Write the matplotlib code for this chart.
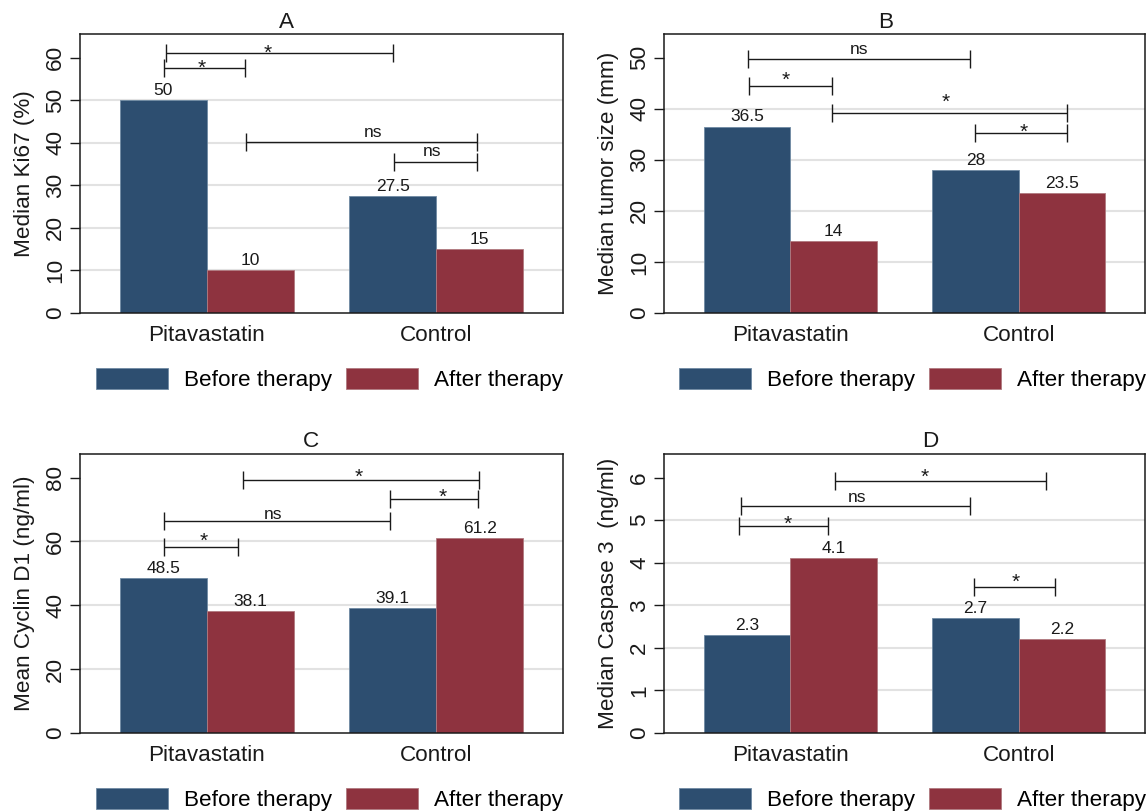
import matplotlib
matplotlib.use("Agg")
import matplotlib.pyplot as plt
from matplotlib.patches import Patch

plt.rcParams['font.family'] = ['Liberation Sans', 'DejaVu Sans']

W, H = 1148, 811

categories = ["Pitavastatin", "Control"]
series_names = ["Before therapy", "After therapy"]
colors = ["#2D4E70", "#8E333F"]
edge_colors = ["#6F8AA3", "#B07A80"]

titles = ["A", "B", "C", "D"]
ylabels = ["Median Ki67 (%)", "Median tumor size (mm)",
           "Mean Cyclin D1 (ng/ml)", "Median Caspase 3  (ng/ml)"]

before_A = [50, 27.5]
after_A = [10, 15]
before_B = [36.5, 28]
after_B = [14, 23.5]
before_C = [48.5, 39.1]
after_C = [38.1, 61.2]
before_D = [2.3, 2.7]
after_D = [4.1, 2.2]

ticks_A = [0, 10, 20, 30, 40, 50, 60]
ticks_B = [0, 10, 20, 30, 40, 50]
ticks_C = [0, 20, 40, 60, 80]
ticks_D = [0, 1, 2, 3, 4, 5, 6]

# brackets: (x_start, x_end, y_line, label, label_x, label_baseline_y)
brackets_A = [(-0.18, 0.81, 61.0, "*", 0.266, 59.7),
              (-0.187, 0.168, 57.5, "*", -0.024, 56.2),
              (0.17, 1.176, 40.2, "ns", 0.726, 41.3),
              (0.818, 1.176, 35.4, "ns", 0.98, 36.8)]
brackets_B = [(-0.186, 0.788, 49.7, "ns", 0.303, 50.7),
              (-0.18, 0.182, 44.4, "*", -0.02, 44.4),
              (0.182, 1.21, 39.1, "*", 0.679, 40.1),
              (0.81, 1.21, 35.2, "*", 1.02, 34.3)]
brackets_C = [(0.156, 1.187, 79.2, "*", 0.662, 78.5),
              (0.80, 1.184, 73.4, "*", 1.027, 72.0),
              (-0.186, 0.80, 66.4, "ns", 0.288, 67.0),
              (-0.186, 0.135, 58.2, "*", -0.014, 58.2)]
brackets_D = [(0.194, 1.118, 5.91, "*", 0.587, 5.87),
              (-0.214, 0.788, 5.33, "ns", 0.294, 5.42),
              (-0.226, 0.164, 4.86, "*", -0.013, 4.77),
              (0.805, 1.16, 3.43, "*", 0.986, 3.41)]

panels = [
    (before_A, after_A, ticks_A, brackets_A),
    (before_B, after_B, ticks_B, brackets_B),
    (before_C, after_C, ticks_C, brackets_C),
    (before_D, after_D, ticks_D, brackets_D),
]

# axes boxes in pixels: left, right, top, bottom
boxes = [(80, 563, 34, 313), (664, 1145, 34, 313),
         (80, 563, 454, 733), (664, 1145, 454, 733)]
title_pos = [(286, 23), (886, 23), (311, 442), (930, 442)]

fig = plt.figure(figsize=(W / 100, H / 100), dpi=100)
fig.patch.set_facecolor("white")

FS = 16.2
bw = 0.379
ink = "#1a1a1a"

for i, (bef, aft, ticks, brs) in enumerate(panels):
    l, r, t, b = boxes[i]
    ax = fig.add_axes([l / W, 1 - b / H, (r - l) / W, (b - t) / H])
    ymax = ticks[-1] * 1.0925
    ax.set_ylim(0, ymax)
    ax.set_xlim(-0.553, 1.553)
    x = [0, 1]
    for tk in ticks[1:-1]:
        ax.axhline(tk, color="#E2E2E2", lw=1.5, zorder=0)
    for s, vals in enumerate([bef, aft]):
        xs = [xi + (s - 0.5) * bw for xi in x]
        ax.bar(xs, vals, width=bw, color=colors[s], edgecolor=edge_colors[s],
               linewidth=0.6, zorder=2, label=series_names[s])
        for xb, v in zip(xs, vals):
            ax.annotate(f"{v:g}", (xb, v), xytext=(0, 1.5), textcoords="offset points",
                        ha="center", va="bottom", fontsize=12.5, color=ink, zorder=4)
    for (x1, x2, yl, lab, lx, ly) in brs:
        ax.plot([x1, x2], [yl, yl], color=ink, lw=1.0, zorder=3, solid_capstyle="butt")
        ax.plot([x1, x2], [yl, yl], ls="", marker="|", ms=13.5, mew=1.0, color=ink, zorder=3)
        fs = 15 if lab == "*" else 12.5
        ax.text(lx, ly, lab, ha="center", va="baseline", fontsize=fs, color=ink, zorder=4)
    ax.set_yticks(ticks)
    ax.set_yticklabels([f"{v:g}" for v in ticks], rotation=90, va="center")
    ax.set_xticks(x)
    ax.set_xticklabels(categories)
    ax.tick_params(axis="y", length=7, width=1.0, pad=3, labelsize=FS, colors=ink)
    ax.tick_params(axis="x", length=0, pad=8.5, labelsize=FS, colors=ink)
    ax.set_ylabel(ylabels[i], fontsize=FS, labelpad=7, color=ink)
    for sp in ax.spines.values():
        sp.set_linewidth(1.1)
        sp.set_color(ink)
    handles = [Patch(facecolor=colors[k], edgecolor=edge_colors[k], lw=0.6) for k in range(2)]
    ax.legend(handles, series_names, loc="center", bbox_to_anchor=(0.517, -0.240),
              ncol=2, frameon=False, fontsize=FS, handlelength=3.2, handleheight=1.03,
              handletextpad=0.72, columnspacing=0.62, borderaxespad=0, borderpad=0)
    tx, ty = title_pos[i]
    fig.text(tx / W, 1 - ty / H, titles[i], ha="center", va="center", fontsize=FS, color=ink)

fig.savefig("out.png", dpi=100, facecolor="white")
